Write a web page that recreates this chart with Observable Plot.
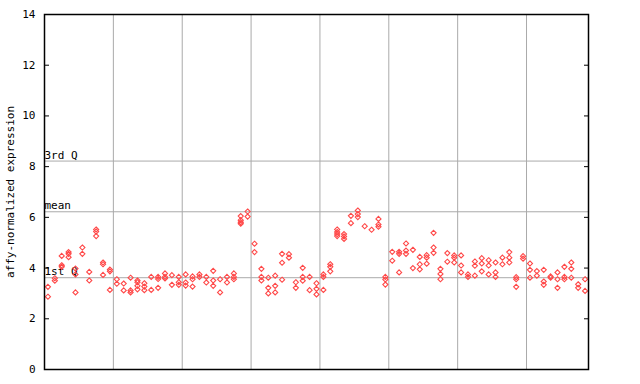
<!DOCTYPE html>
<html>
<head>
<meta charset="utf-8">
<script src="https://cdn.jsdelivr.net/npm/d3@7"></script>
<script src="https://cdn.jsdelivr.net/npm/@observablehq/plot@0.6"></script>
<style>
  html, body { margin: 0; padding: 0; background: #fff; }
  svg { display: block; }
</style>
</head>
<body>
<div id="chart"></div>
<script>
// Expression values per sample column (replicates)
const expression = [
  [3.26, 2.87], [3.6, 3.5], [4.48, 4.11, 4.05], [4.63, 4.56, 4.43], [3.98, 3.75, 3.04],
  [4.81, 4.56], [3.85, 3.51], [5.52, 5.44, 5.26], [4.22, 4.15, 3.73], [3.94, 3.87, 3.14],
  [3.56, 3.38], [3.39, 3.12], [3.62, 3.12, 3.04], [3.51, 3.44, 3.30, 3.16], [3.40, 3.27, 3.13],
  [3.65, 3.14], [3.65, 3.57, 3.22], [3.79, 3.65, 3.59], [3.72, 3.34], [3.65, 3.44, 3.34],
  [3.75, 3.43, 3.31], [3.67, 3.56, 3.27], [3.75, 3.65], [3.65, 3.43], [3.89, 3.51, 3.30],
  [3.56, 3.04], [3.65, 3.43], [3.79, 3.65, 3.56], [6.05, 5.89, 5.81, 5.75], [6.23, 6.03],
  [4.96, 4.63], [3.97, 3.65, 3.51], [3.62, 3.22, 3.00], [3.70, 3.30, 3.04], [4.56, 4.21, 3.54],
  [4.55, 4.41], [3.44, 3.22], [4.01, 3.65, 3.50], [3.65, 3.13], [3.40, 3.18, 2.96],
  [3.75, 3.65, 3.14], [4.15, 4.05, 3.87], [5.52, 5.42, 5.34, 5.26], [5.34, 5.25, 5.15], [6.06, 5.77],
  [6.27, 6.13, 6.01], [5.65], [5.51], [5.94, 5.72, 5.63], [3.65, 3.55, 3.35],
  [4.64, 4.29], [4.64, 4.56, 3.83], [4.97, 4.69, 4.56], [4.72, 4.00], [4.44, 4.15, 3.95],
  [4.51, 4.41, 4.17], [5.39, 4.81, 4.60], [3.97, 3.77, 3.56], [4.59, 4.25], [4.50, 4.41, 4.22],
  [4.50, 4.10, 3.83], [3.75, 3.65], [4.26, 4.09, 3.70], [4.39, 4.18, 3.87], [4.31, 4.10, 3.75],
  [4.22, 3.83, 3.65], [4.41, 4.15], [4.63, 4.41, 4.22], [3.64, 3.56, 3.26], [4.47, 4.37],
  [4.18, 3.93, 3.62], [3.88, 3.70], [3.93, 3.47, 3.34], [3.67, 3.62], [3.83, 3.56, 3.22],
  [4.05, 3.65, 3.56], [4.22, 3.97, 3.62], [3.36, 3.22], [3.56, 3.10]
];
const groupSize = 10;
const quartileValues = [3.62, 6.22, 8.22];
const quartileLabels = ["1st Q", "mean", "3rd Q"];
const yTicks = [0, 2, 4, 6, 8, 10, 12, 14];

const points = expression.flatMap((vals, i) => vals.map(v => ({sample: i, value: v})));
const nSamples = expression.length;
const groupBreaks = d3.range(groupSize, nSamples, groupSize).map(i => i - 0.5);
const quartiles = quartileValues.map((v, i) => ({value: v, label: quartileLabels[i]}));

const font = "'DejaVu Sans Mono', monospace";

const chart = Plot.plot({
  width: 640,
  height: 384,
  marginLeft: 44,
  marginRight: 52,
  marginTop: 14,
  marginBottom: 15,
  style: {fontFamily: font, fontSize: "11px", color: "black", background: "white"},
  x: {domain: [-0.5, nSamples - 0.5], axis: null},
  y: {domain: [0, 14], ticks: yTicks},
  marks: [
    Plot.ruleX(groupBreaks, {stroke: "#aaaaaa", strokeWidth: 1}),
    Plot.ruleY(quartiles, {y: "value", stroke: "#aaaaaa", strokeWidth: 1}),
    Plot.text(quartiles, {x: -0.5, y: "value", text: "label", textAnchor: "start", dy: -6, dx: 0, fill: "black", fontFamily: font, fontSize: 11}),
    Plot.dot(points, {x: "sample", y: "value", symbol: "diamond2", r: 2.3, stroke: "#ff4848", strokeWidth: 1.1, fill: "none"}),
    Plot.axisY({anchor: "left", ticks: yTicks, tickSize: -5, tickPadding: 14, label: "affy-normalized expression", labelAnchor: "center", labelArrow: "none", labelOffset: 38, fontFamily: font, fontSize: 11}),
    Plot.axisY({anchor: "right", ticks: yTicks, tickSize: -5, tickFormat: () => "", label: null}),
    Plot.frame({stroke: "black", strokeWidth: 1.5})
  ]
});
document.getElementById("chart").appendChild(chart);
</script>
</body>
</html>
